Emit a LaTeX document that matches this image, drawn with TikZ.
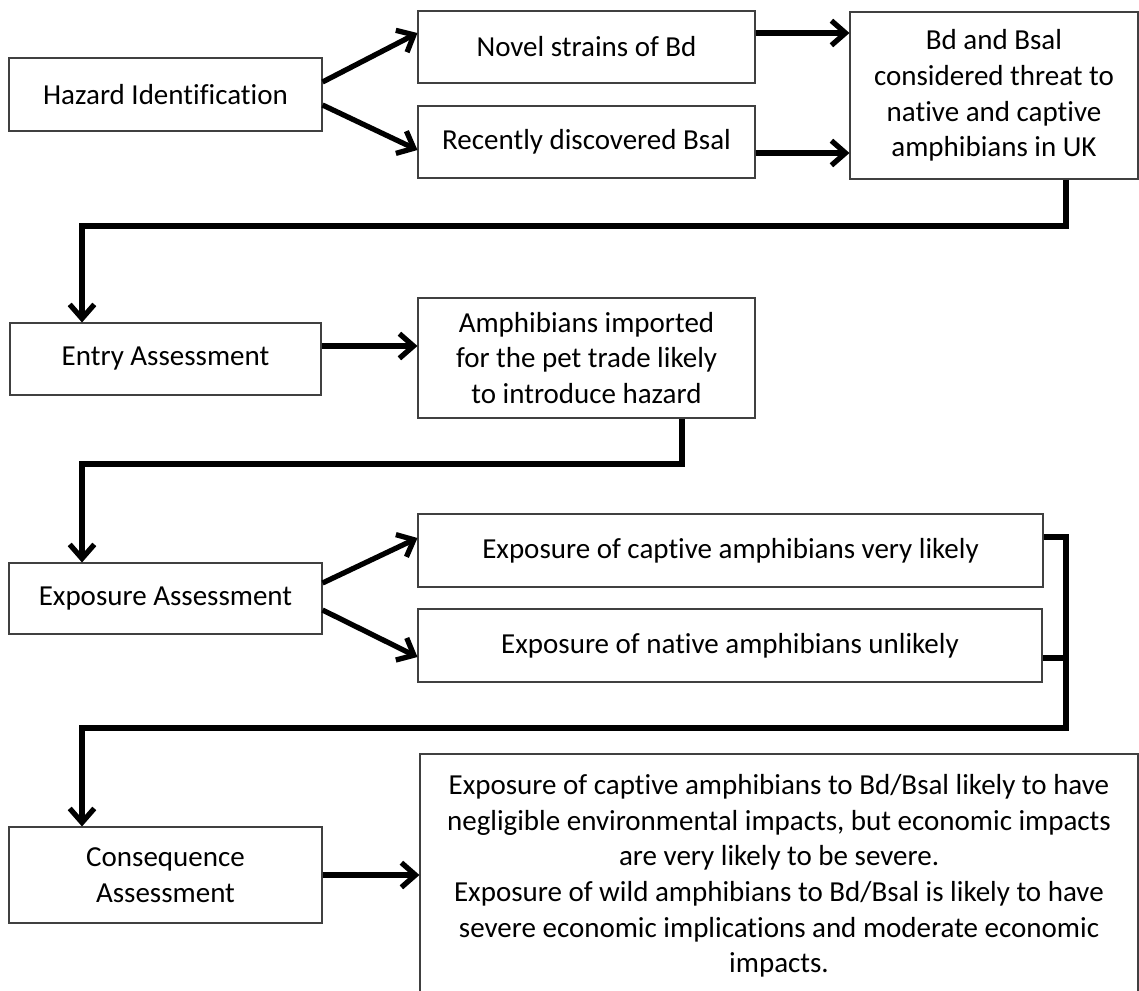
\documentclass[tikz,border=0pt]{standalone}
\usepackage{fontspec}
\setmainfont{Carlito}[Ligatures=NoCommon]
\usepackage{tikz}
\usepackage{xcolor}
\usetikzlibrary{arrows.meta, positioning}

\begin{document}
\begin{tikzpicture}[
        >={Straight Barb[length=8pt, width=14pt]},
        stage/.style={draw=black!75, line width=0.6pt, inner sep=0pt, align=center,
            font=\fontsize{16.5pt}{20.3pt}\selectfont},
        flow/.style={->, line width=3pt},
        link/.style={line width=3pt}
    ]
        \useasboundingbox (0, 0) rectangle (22.78, -19.8);

        \node[stage, minimum width=6.26cm, minimum height=1.46cm] (haz) at (3.31, -1.89) {Hazard Identification};
        \node[stage, minimum width=6.74cm, minimum height=1.44cm] (novel) at (11.73, -0.94) {Novel strains of Bd};
        \node[stage, minimum width=6.74cm, minimum height=1.44cm] (bsal) at (11.73, -2.84) {Recently discovered Bsal};
        \node[stage, minimum width=5.76cm, minimum height=3.34cm] (threat) at (19.88, -1.91) {Bd and Bsal\\considered threat to\\native and captive\\amphibians in UK};

        \node[stage, minimum width=6.22cm, minimum height=1.44cm] (entry) at (3.31, -7.18) {Entry Assessment};
        \node[stage, minimum width=6.74cm, minimum height=2.4cm] (import) at (11.73, -7.16) {Amphibians imported\\for the pet trade likely\\to introduce hazard};

        \node[stage, minimum width=6.26cm, minimum height=1.42cm] (expo) at (3.31, -11.97) {Exposure Assessment};
        \node[stage, minimum width=12.5cm, minimum height=1.46cm] (captive) at (14.61, -11.01) {Exposure of captive amphibians very likely};
        \node[stage, minimum width=12.48cm, minimum height=1.46cm] (native) at (14.6, -12.91) {Exposure of native amphibians unlikely};

        \node[stage, minimum width=6.26cm, minimum height=1.92cm] (conseq) at (3.31, -17.5) {Consequence\\Assessment};
        \node[stage, minimum width=14.36cm, minimum height=4.88cm] (impact) at (15.58, -17.52) {Exposure of captive amphibians to Bd/Bsal likely to have\\negligible environmental impacts, but economic impacts\\are very likely to be severe.\\Exposure of wild amphibians to Bd/Bsal is likely to have\\severe economic implications and moderate economic\\impacts.};

        \coordinate (drop1) at (21.32, -4.52);
        \coordinate (turn1) at (1.64, -4.52);
        \coordinate (drop2) at (13.64, -9.28);
        \coordinate (turn2) at (1.64, -9.28);
        \coordinate (drop3) at (21.32, -14.56);
        \coordinate (turn3) at (1.64, -14.56);

        \draw[flow] ([yshift=2.5mm]haz.east) -- ([yshift=2.8mm]novel.west);
        \draw[flow] ([yshift=-2.1mm]haz.east) -- ([yshift=-1.6mm]bsal.west);
        \draw[flow] ([yshift=2.8mm]novel.east) -- ([yshift=2.8mm]novel.east -| threat.west);
        \draw[flow] ([yshift=-2.2mm]bsal.east) -- ([yshift=-2.2mm]bsal.east -| threat.west);
        \draw[flow] (threat.south -| drop1) -- (drop1) -- (turn1) -- (turn1 |- entry.north);

        \draw[flow] ([yshift=2.6mm]entry.east) -- ([yshift=2.6mm]entry.east -| import.west);
        \draw[flow] (import.south -| drop2) -- (drop2) -- (turn2) -- (turn2 |- expo.north);

        \draw[flow] ([yshift=3.1mm]expo.east) -- ([yshift=2.5mm]captive.west);
        \draw[flow] ([yshift=-2.3mm]expo.east) -- ([yshift=-2.3mm]native.west);
        \draw[flow] ([yshift=2.7mm]captive.east) -| (drop3) -- (turn3) -- (turn3 |- conseq.north);
        \draw[link] ([yshift=-2.5mm]native.east) -- ([yshift=-2.5mm]native.east -| drop3);

        \draw[flow] (conseq.east) -- (conseq.east -| impact.west);
    \end{tikzpicture}
\end{document}
